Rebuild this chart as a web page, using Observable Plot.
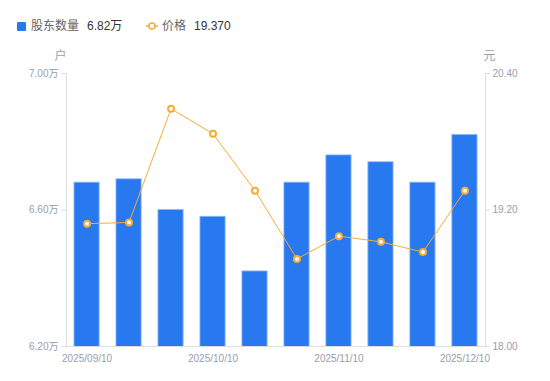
<!DOCTYPE html>
<html><head><meta charset="utf-8">
<script src="https://cdn.jsdelivr.net/npm/d3@7"></script>
<script src="https://cdn.jsdelivr.net/npm/@observablehq/plot@0.6"></script>
<style>
  html,body{margin:0;padding:0;background:#fff;}
  #wrap{position:relative;width:550px;height:381px;font-family:"Liberation Sans","Noto Sans CJK SC",sans-serif;}
  #legend{position:absolute;left:0;top:0;height:40px;width:550px;font-size:12px;}
  .item{position:absolute;top:16px;white-space:nowrap;}
  .nm{color:#666;}
  .vl{color:#333;margin-left:8px;}
</style>
</head><body>
<div id="wrap">
  <div id="chart"></div>
  <div id="legend">
    <div class="item" style="left:17px;"><span style="display:inline-block;width:9px;height:9px;background:#2878f0;border-radius:1px;margin-right:5px;vertical-align:-1px;"></span><span class="nm">股东数量</span><span class="vl" id="v1"></span></div>
    <div class="item" style="left:146px;"><svg width="12" height="10" style="margin-right:4px;vertical-align:-1px;"><line x1="0" y1="5" x2="12" y2="5" stroke="#f5ad35" stroke-width="1.5"/><circle cx="6" cy="5" r="3" fill="#fff" stroke="#f5ad35" stroke-width="1.5"/></svg><span class="nm">价格</span><span class="vl" id="v2"></span></div>
  </div>
</div>
<script>
const dates = ["2025/09/10","2025/09/20","2025/09/30","2025/10/10","2025/10/20","2025/10/31","2025/11/10","2025/11/20","2025/11/30","2025/12/10"];
const shares = [6.68, 6.69, 6.60, 6.58, 6.42, 6.68, 6.76, 6.74, 6.68, 6.82]; // 万户
const prices = [19.08, 19.09, 20.09, 19.87, 19.37, 18.77, 18.97, 18.92, 18.83, 19.37];
const xTickLabels = ["2025/09/10","2025/10/10","2025/11/10","2025/12/10"];
const leftDomain = [6.2, 7.0];
const rightDomain = [18.0, 20.4];
const leftTicks = [6.2, 6.6, 7.0];

const toLeft = d3.scaleLinear().domain(rightDomain).range(leftDomain);
const data = dates.map((d, i) => ({date: d, shares: shares[i], price: prices[i], pY: toLeft(prices[i])}));

document.getElementById("v1").textContent = shares[shares.length-1].toFixed(2) + "万";
document.getElementById("v2").textContent = prices[prices.length-1].toFixed(3);

const tickColor = "#9a9dab";
const axisColor = "#dcdde3";
const blue = "#2878f0";
const orange = "#f5ad35";

const chart = Plot.plot({
  width: 550, height: 381,
  marginLeft: 66, marginRight: 65, marginTop: 73, marginBottom: 35,
  style: {fontFamily: '"Liberation Sans","Noto Sans CJK SC",sans-serif', fontSize: "10px", background: "transparent"},
  x: {type: "band", domain: dates, paddingInner: 0.4, paddingOuter: 0.19, round: false},
  y: {domain: leftDomain},
  marks: [
    Plot.barY(data, {x: "date", y: "shares", fill: blue, stroke: "#8fb8f7", strokeWidth: 1, strokeOpacity: 0.8, clip: true}),
    Plot.frame({anchor: "bottom", stroke: axisColor}),
    Plot.frame({anchor: "left", stroke: axisColor}),
    Plot.frame({anchor: "right", stroke: axisColor}),
    Plot.axisY({anchor: "left", ticks: leftTicks, tickFormat: d => d.toFixed(2) + "万", tickSize: 5, tickPadding: 3, stroke: axisColor, color: tickColor, label: null}),
    Plot.axisY({anchor: "right", ticks: leftTicks, tickFormat: d => toLeft.invert(d).toFixed(2), tickSize: 4, tickPadding: 3, stroke: axisColor, color: tickColor, label: null}),
    Plot.axisX({ticks: xTickLabels, tickSize: 0, tickPadding: 8, color: tickColor, label: null}),
    Plot.line(data, {x: "date", y: "pY", stroke: orange, strokeWidth: 1}),
    Plot.dot(data, {x: "date", y: "pY", r: 3, fill: "#fff", stroke: orange, strokeWidth: 2}),
    Plot.text(["户"], {frameAnchor: "top-left", dx: -12, dy: -22, fill: tickColor, fontSize: 12}),
    Plot.text(["元"], {frameAnchor: "top-right", dx: 10, dy: -22, fill: tickColor, fontSize: 12})
  ]
});
document.getElementById("chart").appendChild(chart);
</script>
</body></html>
